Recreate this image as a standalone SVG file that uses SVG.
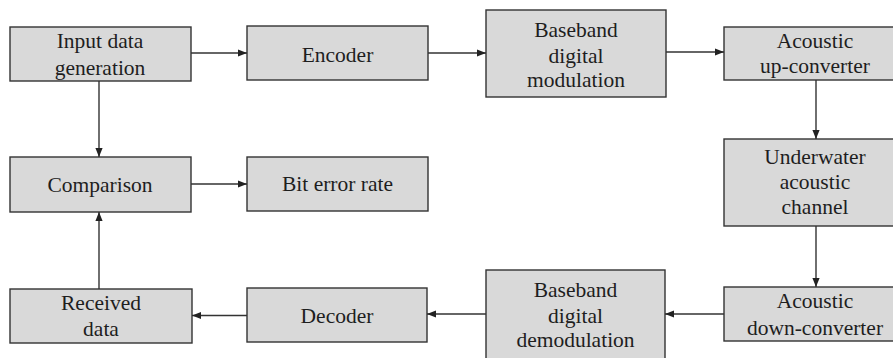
<svg xmlns="http://www.w3.org/2000/svg" width="893" height="358" viewBox="0 0 893 358">
<defs>
<style>
.box{fill:#d9d9d9;stroke:#333;stroke-width:1.4}
.t{font-family:"Liberation Serif","Times New Roman",serif;font-size:21.5px;fill:#1e1e1e;text-anchor:middle}
.c{stroke:#333;stroke-width:1.4;fill:none;marker-end:url(#ah)}
</style>
<marker id="ah" viewBox="0 0 10 10" refX="10" refY="5" markerUnits="userSpaceOnUse" markerWidth="9" markerHeight="9" orient="auto">
<path d="M0,1 L10,5 L0,9 Z" fill="#222"/>
</marker>
</defs>
<rect width="893" height="358" fill="#fff"/>
<g id="input"><rect class="box" x="10" y="27" width="181" height="54"/><text class="t" x="100" y="48">Input data</text><text class="t" x="100" y="74.5">generation</text></g>
<g id="encoder"><rect class="box" x="247" y="26" width="181" height="54"/><text class="t" x="337.5" y="62">Encoder</text></g>
<g id="modulation"><rect class="box" x="486" y="10" width="180" height="87"/><text class="t" x="576" y="37">Baseband</text><text class="t" x="576" y="62.5">digital</text><text class="t" x="576" y="87">modulation</text></g>
<g id="upconverter"><rect class="box" x="724" y="27" width="182" height="53"/><text class="t" x="815" y="48">Acoustic</text><text class="t" x="815" y="73">up-converter</text></g>
<g id="channel"><rect class="box" x="724" y="139" width="182" height="87"/><text class="t" x="815" y="163.5">Underwater</text><text class="t" x="815" y="188.5">acoustic</text><text class="t" x="815" y="213.5">channel</text></g>
<g id="downconverter"><rect class="box" x="724" y="287" width="182" height="54"/><text class="t" x="815" y="308">Acoustic</text><text class="t" x="815" y="334.5">down-converter</text></g>
<g id="demodulation"><rect class="box" x="486" y="270" width="179" height="100"/><text class="t" x="575.5" y="296.5">Baseband</text><text class="t" x="575.5" y="322.5">digital</text><text class="t" x="575.5" y="347">demodulation</text></g>
<g id="decoder"><rect class="box" x="247" y="288" width="180" height="54"/><text class="t" x="337" y="323">Decoder</text></g>
<g id="received"><rect class="box" x="10" y="289" width="182" height="54"/><text class="t" x="101" y="310">Received</text><text class="t" x="101" y="335.5">data</text></g>
<g id="comparison"><rect class="box" x="10" y="157" width="181" height="55"/><text class="t" x="100" y="191.5">Comparison</text></g>
<g id="ber"><rect class="box" x="247" y="157" width="181" height="54"/><text class="t" x="337.5" y="191">Bit error rate</text></g>
<g id="connectors">
<line class="c" x1="191" y1="53" x2="247" y2="53"/>
<line class="c" x1="428" y1="53" x2="486" y2="53"/>
<line class="c" x1="666" y1="52" x2="724" y2="52"/>
<line class="c" x1="816" y1="80" x2="816" y2="139"/>
<line class="c" x1="816" y1="226" x2="816" y2="287"/>
<line class="c" x1="724" y1="314" x2="665" y2="314"/>
<line class="c" x1="486" y1="314" x2="427" y2="314"/>
<line class="c" x1="247" y1="315.5" x2="192" y2="315.5"/>
<line class="c" x1="99" y1="289" x2="99" y2="212"/>
<line class="c" x1="99" y1="81" x2="99" y2="157"/>
<line class="c" x1="191" y1="184" x2="247" y2="184"/>
</g>
</svg>
